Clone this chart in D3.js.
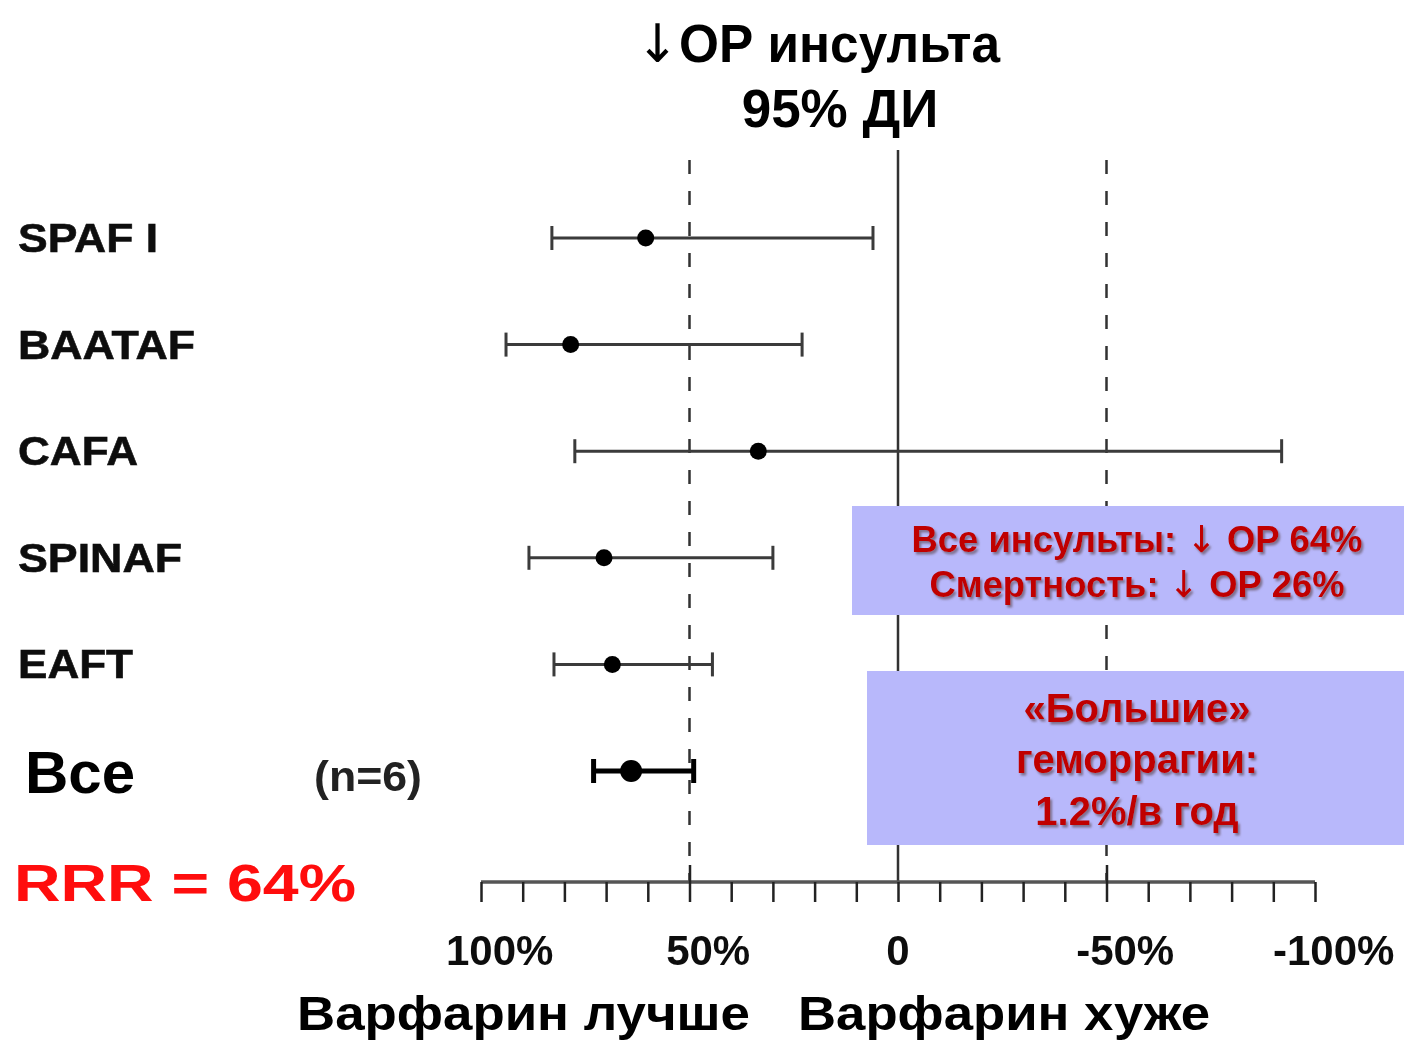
<!DOCTYPE html>
<html>
<head>
<meta charset="utf-8">
<script src="https://cdn.jsdelivr.net/npm/d3@7"></script>
<style>
  html, body { margin: 0; padding: 0; background: #fff; }
  svg { display: block; font-family: "Liberation Sans", Arial, sans-serif; }
  .arrow { font-family: "DejaVu Sans", sans-serif; font-weight: normal; }
</style>
</head>
<body>
<svg id="chart" width="1404" height="1042"></svg>
<script>
// Trials and relative risk reduction of stroke (%) with 95% CI
const studies   = ["SPAF I", "BAATAF", "CAFA", "SPINAF", "EAFT"];
const rrr       = [60.5, 78.5, 33.5, 70.5, 68.5];
const ciUpper   = [83, 94, 77.5, 88.5, 82.5];
const ciLower   = [6, 23, -92, 30, 44.5];
const pooledLabel = "Все";
const pooledN     = "(n=6)";
const pooledRRR   = 64;
const pooledCI    = [73, 49];
const tickValues  = d3.range(100, -101, -10);
const tickLabels  = [["100", "%", 100], ["50", "%", 50], ["0", "", 0], ["-50", "%", -50], ["-100", "%", -100]];
const refLines    = [50, -50];

const svg = d3.select("#chart");
const defs = svg.append("defs");
defs.append("filter").attr("id", "soft")
  .append("feGaussianBlur").attr("stdDeviation", 0.6);
const sh = defs.append("filter").attr("id", "shadow")
  .attr("x", "-5%").attr("y", "-20%").attr("width", "115%").attr("height", "150%");
sh.append("feDropShadow").attr("dx", 2).attr("dy", 2.5)
  .attr("stdDeviation", 1.2).attr("flood-color", "#6a5a6a").attr("flood-opacity", 0.75);

const x = d3.scaleLinear().domain([100, -100]).range([481, 1315]);
const rows = studies.concat([pooledLabel]);
const y = d3.scalePoint().domain(rows).range([238, 771]);
const axisY = 882;

// Text with a tall down-arrow taken from DejaVu
function arrowText(sel, before, after) {
  if (before) sel.append("tspan").text(before);
  sel.append("tspan").attr("class", "arrow").text("↓");
  sel.append("tspan").text(after);
  return sel;
}

// Title
const title = svg.append("g").attr("font-weight", "bold").attr("fill", "#000")
  .attr("text-anchor", "middle").attr("font-size", 53);
arrowText(title.append("text").attr("x", 818).attr("y", 62)
  .attr("textLength", 364).attr("lengthAdjust", "spacingAndGlyphs"), "", "ОР инсульта");
title.append("text").attr("x", 840).attr("y", 127).text("95% ДИ");

const chart = svg.append("g").attr("filter", "url(#soft)");

// Reference lines
chart.append("line")
  .attr("x1", x(0)).attr("x2", x(0)).attr("y1", 150).attr("y2", axisY)
  .attr("stroke", "#333").attr("stroke-width", 2.5);
chart.selectAll("line.ref").data(refLines).join("line").attr("class", "ref")
  .attr("x1", d => x(d)).attr("x2", d => x(d)).attr("y1", 160).attr("y2", axisY)
  .attr("stroke", "#333").attr("stroke-width", 2.5).attr("stroke-dasharray", "14,17");

// Axis
const axis = d3.axisBottom(x).tickValues(tickValues).tickSize(20).tickFormat("");
const ax = chart.append("g").attr("transform", `translate(0,${axisY})`).call(axis);
ax.select(".domain").attr("stroke", "#555").attr("stroke-width", 3.5)
  .attr("d", `M${x(100)},0H${x(-100)}`);
ax.selectAll(".tick line").attr("stroke", "#222").attr("stroke-width", 2.5);
ax.selectAll(".tick").filter(d => d === 50 || d === -50).append("line")
  .attr("y1", -17).attr("y2", 0).attr("stroke", "#222").attr("stroke-width", 2.5);

// Tick labels: number centred on the tick, percent sign appended
const tl = chart.append("g").attr("font-weight", "bold").attr("font-size", 42).attr("fill", "#111");
tickLabels.forEach(([num, pct, v]) => {
  const t = tl.append("text").attr("y", 965);
  t.append("tspan").text(num);
  if (pct) t.append("tspan").text(pct);
  const w = t.node().getSubStringLength(0, num.length);
  t.attr("x", x(v) - w / 2);
});

// Error bars
const studyData = studies.map((s, i) => ({ s, v: rrr[i], lo: ciUpper[i], hi: ciLower[i] }));
const bars = chart.append("g");
studyData.forEach(d => {
  const g = bars.append("g").attr("stroke", "#3a3a3a").attr("stroke-width", 3);
  g.append("line").attr("x1", x(d.lo)).attr("x2", x(d.hi)).attr("y1", y(d.s)).attr("y2", y(d.s));
  g.append("line").attr("x1", x(d.lo)).attr("x2", x(d.lo)).attr("y1", y(d.s) - 12).attr("y2", y(d.s) + 12);
  g.append("line").attr("x1", x(d.hi)).attr("x2", x(d.hi)).attr("y1", y(d.s) - 12).attr("y2", y(d.s) + 12);
  bars.append("circle").attr("cx", x(d.v)).attr("cy", y(d.s)).attr("r", 8.5).attr("fill", "#000");
});
const py = y(pooledLabel);
const pg = bars.append("g").attr("stroke", "#000").attr("stroke-width", 5);
pg.append("line").attr("x1", x(pooledCI[0])).attr("x2", x(pooledCI[1])).attr("y1", py).attr("y2", py);
pooledCI.forEach(c => pg.append("line").attr("x1", x(c)).attr("x2", x(c)).attr("y1", py - 12).attr("y2", py + 12));
bars.append("circle").attr("cx", x(pooledRRR)).attr("cy", py).attr("r", 11).attr("fill", "#000");

// Row labels
const widths = { "SPAF I": 140, "BAATAF": 177, "CAFA": 120, "SPINAF": 164, "EAFT": 115 };
chart.append("g").attr("font-weight", "bold").attr("font-size", 40).attr("fill", "#111")
  .attr("stroke", "#111").attr("stroke-width", 0.6)
  .selectAll("text").data(studies).join("text")
  .attr("x", 18).attr("y", d => y(d) + 14)
  .attr("textLength", d => widths[d]).attr("lengthAdjust", "spacingAndGlyphs")
  .text(d => d);

svg.append("text").attr("x", 25).attr("y", py + 22).attr("font-weight", "bold")
  .attr("font-size", 60).attr("fill", "#000").text(pooledLabel);
chart.append("text").attr("x", 314).attr("y", py + 20).attr("font-weight", "bold")
  .attr("font-size", 42).attr("fill", "#222")
  .attr("textLength", 108).attr("lengthAdjust", "spacingAndGlyphs").text(pooledN);
chart.append("text").attr("x", 14).attr("y", 901).attr("font-weight", "bold")
  .attr("font-size", 52).attr("fill", "#ff0a0a")
  .attr("textLength", 342).attr("lengthAdjust", "spacingAndGlyphs").text(`RRR = ${pooledRRR}%`);

// Axis captions
const cap = svg.append("g").attr("font-weight", "bold").attr("font-size", 48).attr("fill", "#000");
cap.append("text").attr("x", 297).attr("y", 1030).attr("textLength", 453)
  .attr("lengthAdjust", "spacingAndGlyphs").text("Варфарин лучше");
cap.append("text").attr("x", 798).attr("y", 1030).attr("textLength", 412)
  .attr("lengthAdjust", "spacingAndGlyphs").text("Варфарин хуже");

// Summary boxes
const boxFill = "#b8b8fb", red = "#c00000";
svg.append("rect").attr("x", 852).attr("y", 506).attr("width", 552).attr("height", 109).attr("fill", boxFill);
svg.append("rect").attr("x", 867).attr("y", 671).attr("width", 537).attr("height", 174).attr("fill", boxFill);
const bt = svg.append("g").attr("font-weight", "bold").attr("fill", red)
  .attr("text-anchor", "middle").attr("filter", "url(#shadow)");
arrowText(bt.append("text").attr("x", 1137).attr("y", 552).attr("font-size", 37)
  .attr("textLength", 451).attr("lengthAdjust", "spacingAndGlyphs"), "Все инсульты: ", " ОР 64%");
arrowText(bt.append("text").attr("x", 1137).attr("y", 597).attr("font-size", 37)
  .attr("textLength", 415).attr("lengthAdjust", "spacingAndGlyphs"), "Смертность: ", " ОР 26%");
bt.append("text").attr("x", 1137).attr("y", 722).attr("font-size", 40).text("«Большие»");
bt.append("text").attr("x", 1137).attr("y", 773).attr("font-size", 40).text("геморрагии:");
bt.append("text").attr("x", 1137).attr("y", 825).attr("font-size", 40).text("1.2%/в год");
</script>
</body>
</html>
